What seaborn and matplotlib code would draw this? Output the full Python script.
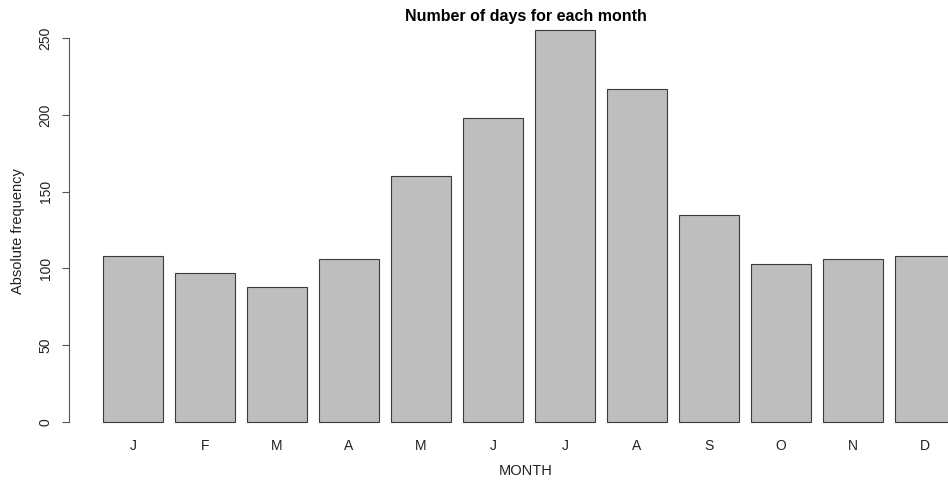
import matplotlib
matplotlib.use("Agg")
import matplotlib.pyplot as plt
import seaborn as sns
import pandas as pd

# Data
months = ['Jan', 'Feb', 'Mar', 'Apr', 'May', 'Jun',
          'Jul', 'Aug', 'Sep', 'Oct', 'Nov', 'Dec']
month_letters = ['J', 'F', 'M', 'A', 'M', 'J', 'J', 'A', 'S', 'O', 'N', 'D']
days = [108, 97, 88, 106, 160, 198, 255, 217, 135, 103, 106, 108]
y_ticks = [0, 50, 100, 150, 200, 250]

df = pd.DataFrame({'MONTH': months, 'Frequency': days})

sns.set_style("white")
plt.rcParams['font.family'] = ['Liberation Sans', 'DejaVu Sans']

W, H = 948, 487
fig = plt.figure(figsize=(W / 100, H / 100), dpi=100)

# plot region in pixels (R-like barplot margins)
left_px, right_px, top_px, bottom_px = 69.4, 948, 14.7, 437.7
ax = fig.add_axes([left_px / W, 1 - bottom_px / H,
                   (right_px - left_px) / W, (bottom_px - top_px) / H])

sns.barplot(data=df, x='MONTH', y='Frequency', order=months, ax=ax,
            color='#bebebe', saturation=1, width=60 / 72,
            edgecolor='#3a3a3a', linewidth=0.8)

ax.set_xlim(-0.883, 11.32)
ax.set_ylim(-10.2, 265.2)

for side in ['top', 'right', 'bottom']:
    ax.spines[side].set_visible(False)
ax.spines['left'].set_bounds(0, 250)
ax.spines['left'].set_color('#555555')
ax.spines['left'].set_linewidth(0.8)

ax.set_yticks(y_ticks)
ax.set_yticklabels([str(t) for t in y_ticks], rotation=90, va='center',
                   fontsize=10, color='#222222')
ax.tick_params(axis='y', left=True, length=5, width=0.8, color='#555555', pad=7)

ax.set_xticks(range(len(months)))
ax.set_xticklabels(month_letters, fontsize=10, color='#222222')
ax.tick_params(axis='x', bottom=False, length=0, pad=1)

ax.set_xlabel('')
ax.set_ylabel('')
ax.grid(False)

fig.text(526 / W, 1 - 471 / H, 'MONTH', ha='center', va='center',
         fontsize=10.5, color='#222222')
fig.text(18 / W, 1 - 231 / H, 'Absolute frequency', ha='center', va='center',
         rotation=90, fontsize=10.5, color='#222222')
fig.text(526 / W, 1 - 17 / H, 'Number of days for each month',
         ha='center', va='center', fontsize=11.5, fontweight='bold', color='black')

fig.savefig('out.png', dpi=100, facecolor='white')
